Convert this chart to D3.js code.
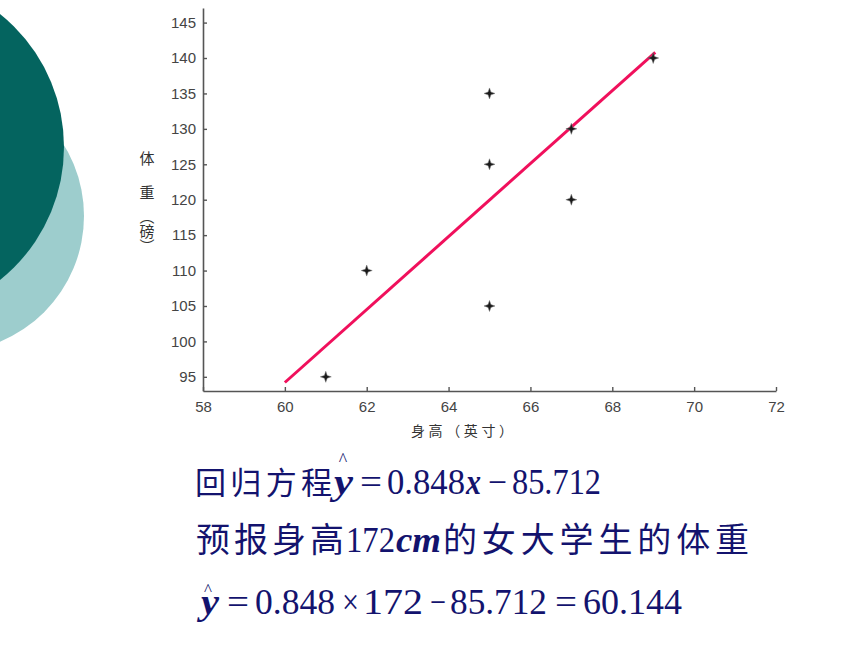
<!DOCTYPE html>
<html>
<head>
<meta charset="utf-8">
<script src="https://cdn.jsdelivr.net/npm/d3@7"></script>
<style>
  html, body { margin: 0; padding: 0; background: #fff; }
  svg { display: block; }
</style>
</head>
<body>
<svg id="chart" width="860" height="645"></svg>
<script>
// ---- data ----
const heights = [61, 62, 65, 65, 65, 67, 67, 69];          // 身高（英寸）
const weights = [95, 110, 135, 125, 105, 130, 120, 140];   // 体重（磅）
const xTickValues = [58, 60, 62, 64, 66, 68, 70, 72];
const yTickValues = [95, 100, 105, 110, 115, 120, 125, 130, 135, 140, 145];
const fitX = [60, 69.05];     // 回归直线端点
const fitY = [94.2, 140.8];
const xDomain = [58, 72];
const yDomain = [93, 147.06];

const svg = d3.select("#chart");

// ---- decorative circles ----
svg.append("circle").attr("cx", -52).attr("cy", 216).attr("r", 136).attr("fill", "#9dcdcd");
svg.append("circle").attr("cx", -106).attr("cy", 147).attr("r", 170).attr("fill", "#04645f");

// ---- scales ----
const x = d3.scaleLinear().domain(xDomain).range([203, 776]);
const y = d3.scaleLinear().domain(yDomain).range([391, 8]);

const axisColor = "#555";
const labelFont = "'Liberation Sans', Arial, sans-serif";

// x axis
const gx = svg.append("g").attr("transform", "translate(0,391)")
  .call(d3.axisBottom(x).tickValues(xTickValues).tickSizeInner(-4).tickSizeOuter(0).tickPadding(8));
// y axis
const gy = svg.append("g").attr("transform", "translate(203,0)")
  .call(d3.axisLeft(y).tickValues(yTickValues).tickSizeInner(-4).tickSizeOuter(0).tickPadding(7));

[gx, gy].forEach(g => {
  g.select(".domain").attr("stroke", axisColor).attr("stroke-width", 1.6);
  g.selectAll(".tick line").attr("stroke", axisColor).attr("stroke-width", 1.4);
  g.selectAll(".tick text").attr("fill", "#444").attr("font-family", labelFont).attr("font-size", 15);
});
gx.selectAll(".tick text").attr("dy", "0.85em");

// axis labels
const cjkFont = "'Noto Sans CJK SC', sans-serif";
svg.append("text").attr("x", 411).attr("y", 436)
  .attr("font-family", cjkFont).attr("font-size", 14).attr("fill", "#333")
  .attr("textLength", 102).attr("lengthAdjust", "spacing")
  .text("身高（英寸）");

svg.append("text").attr("x", 147).attr("y", 164).attr("text-anchor", "middle")
  .attr("font-family", cjkFont).attr("font-size", 15).attr("fill", "#333").text("体");
svg.append("text").attr("x", 147).attr("y", 198).attr("text-anchor", "middle")
  .attr("font-family", cjkFont).attr("font-size", 15).attr("fill", "#333").text("重");
svg.append("text").attr("x", 147).attr("y", 209)
  .attr("font-family", cjkFont).attr("font-size", 15).attr("fill", "#333")
  .style("writing-mode", "vertical-rl").attr("text-anchor", "start")
  .text("（磅）");

// ---- regression line ----
const fitPts = fitX.map((v, i) => [v, fitY[i]]);
svg.append("path")
  .datum(fitPts)
  .attr("d", d3.line().x(d => x(d[0])).y(d => y(d[1])))
  .attr("stroke", "#f0105c").attr("stroke-width", 3).attr("fill", "none");

// ---- points (star markers) ----
const pts = heights.map((h, i) => ({ h, w: weights[i] }));
const star = "M0,-5.5 L1.4,-1.4 L5.5,0 L1.4,1.4 L0,5.5 L-1.4,1.4 L-5.5,0 L-1.4,-1.4 Z";
svg.append("g").selectAll("path").data(pts).join("path")
  .attr("transform", d => `translate(${x(d.h)},${y(d.w)})`)
  .attr("d", star)
  .attr("fill", "#1a1a1a").attr("stroke", "#777").attr("stroke-width", 0.5);

// ---- formulas ----
const navy = "#13136e";
const serif = "'Liberation Serif', 'Times New Roman', serif";

function piece(str, px, width, baseline, size, opts = {}) {
  const t = svg.append("text").attr("x", px).attr("y", baseline)
    .attr("font-family", opts.cjk ? cjkFont : serif)
    .attr("font-size", size).attr("fill", navy)
    .attr("textLength", width)
    .attr("lengthAdjust", opts.cjk ? "spacing" : "spacingAndGlyphs")
    .text(str);
  if (opts.it) t.attr("font-style", "italic").attr("font-weight", "bold");
  if (opts.w) t.attr("font-weight", opts.w);
  return t;
}

// line 1: 回归方程 ŷ = 0.848x − 85.712
piece("回归方程", 195, 137, 494, 31, { cjk: true });
piece("y", 334, 19, 494, 35, { it: true });
piece("=", 360, 22, 494, 35);
piece("0.848", 387, 78, 494, 35);
piece("x", 466, 15, 494, 35, { it: true });
piece("−", 488, 19, 494, 35);
piece("85.712", 512, 89, 494, 35);
svg.append("text").attr("x", 343).attr("y", 466).attr("text-anchor", "middle")
  .attr("font-family", serif).attr("font-size", 18).attr("fill", navy).text("^");

// line 2: 预报身高172cm的女大学生的体重
piece("预报身高", 196, 148, 552, 34, { cjk: true });
piece("172", 346, 49, 552, 35);
piece("cm", 396, 45, 552, 35, { it: true });
piece("的女大学生的体重", 443, 306, 552, 34, { cjk: true });

// line 3: ŷ = 0.848×172 − 85.712 = 60.144
piece("y", 201, 18, 614, 35, { it: true });
piece("=", 227, 22, 614, 35);
piece("0.848", 255, 80, 614, 35);
piece("×", 342, 17, 614, 35);
piece("172", 363, 60, 614, 35);
piece("−", 430, 16, 614, 35);
piece("85.712", 450, 97, 614, 35);
piece("=", 555, 22, 614, 35);
piece("60.144", 583, 99, 614, 35);
svg.append("text").attr("x", 208).attr("y", 595).attr("text-anchor", "middle")
  .attr("font-family", serif).attr("font-size", 17).attr("fill", navy).text("^");
</script>
</body>
</html>
